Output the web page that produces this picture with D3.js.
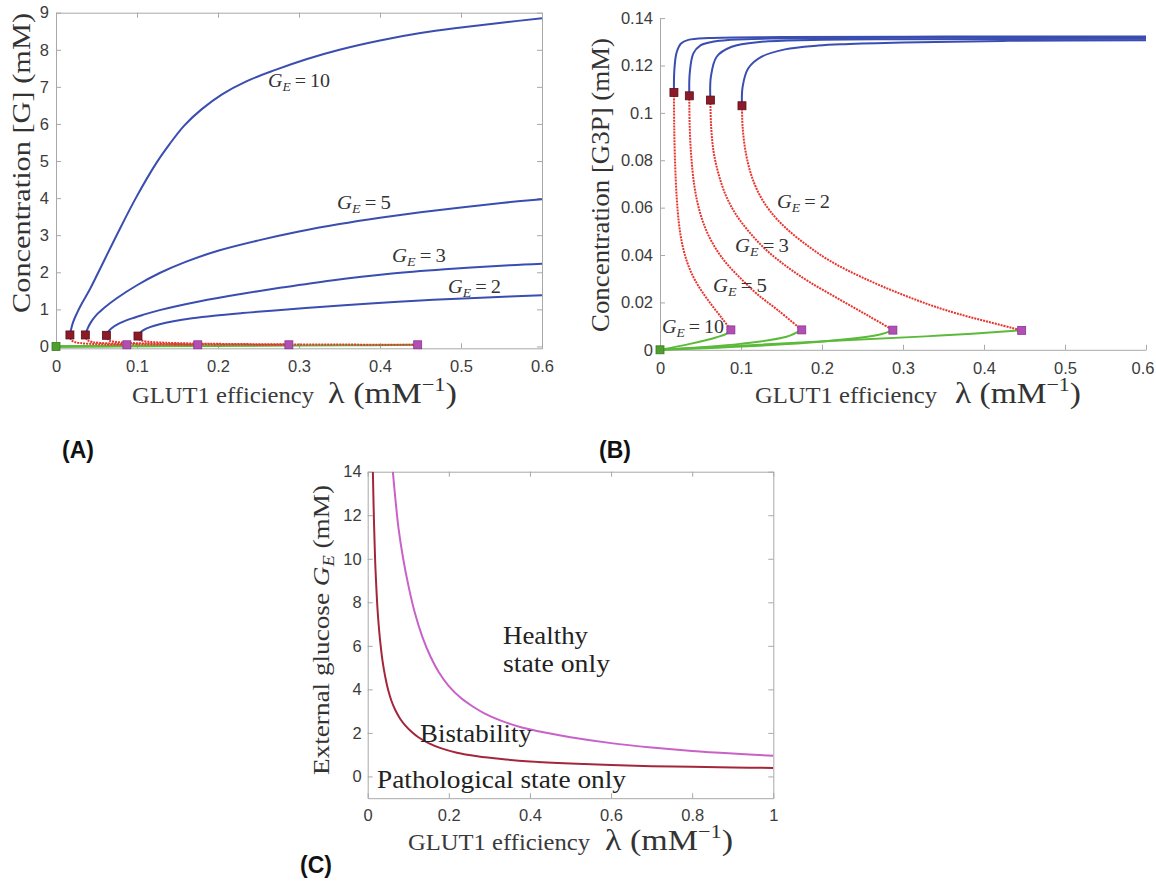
<!DOCTYPE html>
<html><head><meta charset="utf-8">
<script src="https://cdn.jsdelivr.net/npm/d3@7"></script>
<style>body{margin:0;background:#fff}</style>
</head><body>
<svg id="c" width="1156" height="882" xmlns="http://www.w3.org/2000/svg"></svg>
<script>
// ---------------- DATA ----------------
const GE = [10, 5, 3, 2];
const xTicksAB = [0, 0.1, 0.2, 0.3, 0.4, 0.5, 0.6];
const yTicksA = [0, 1, 2, 3, 4, 5, 6, 7, 8, 9];
const yTicksB = [0, 0.02, 0.04, 0.06, 0.08, 0.1, 0.12, 0.14];
const xTicksC = [0, 0.2, 0.4, 0.6, 0.8, 1];
const yTicksC = [0, 2, 4, 6, 8, 10, 12, 14];

// fold (saddle-node) points, one per G_E
const foldHighLam = [0.0172, 0.0362, 0.0622, 0.1012];
const foldLowLam  = [0.0875, 0.175, 0.2875, 0.4465];
const foldHighG   = [0.31, 0.31, 0.30, 0.28];
const foldLowG    = [0.045, 0.045, 0.045, 0.045];
const foldHighG3P = [0.1086, 0.1072, 0.1054, 0.1030];
const foldLowG3P  = [0.0084, 0.0084, 0.0083, 0.0082];

// Panel A: [G] vs lambda  ([lambda, G])
const A_hi_10 = [[0.0172,0.31],[0.0185,0.45],[0.021,0.65],[0.0255,0.88],[0.0317,1.15],[0.042,1.55],[0.0523,2.0],[0.0749,3.0],[0.0985,4.0],[0.124,4.95],[0.14,5.45],[0.158,5.95],[0.18,6.4],[0.205,6.8],[0.235,7.15],[0.27,7.45],[0.31,7.75],[0.35,8.0],[0.4,8.25],[0.45,8.45],[0.5,8.6],[0.55,8.73],[0.6,8.85]];
const A_hi_5  = [[0.0362,0.31],[0.039,0.48],[0.043,0.65],[0.05,0.85],[0.06,1.05],[0.075,1.3],[0.1,1.65],[0.128,1.98],[0.16,2.28],[0.2,2.58],[0.25,2.86],[0.3,3.1],[0.35,3.3],[0.4,3.47],[0.45,3.62],[0.5,3.75],[0.55,3.87],[0.6,3.97]];
const A_hi_3  = [[0.0622,0.30],[0.0645,0.4],[0.069,0.5],[0.077,0.61],[0.09,0.73],[0.107,0.85],[0.128,0.98],[0.178,1.22],[0.23,1.42],[0.2765,1.58],[0.34,1.78],[0.412,1.96],[0.48,2.08],[0.56,2.19],[0.6,2.23]];
const A_hi_2  = [[0.1012,0.28],[0.1035,0.36],[0.108,0.44],[0.116,0.52],[0.128,0.6],[0.145,0.68],[0.168,0.76],[0.195,0.83],[0.23,0.9],[0.27,0.97],[0.33,1.07],[0.388,1.16],[0.45,1.24],[0.51,1.3],[0.56,1.35],[0.6,1.38]];
const A_mid_10 = [[0.0172,0.31],[0.0178,0.22],[0.0195,0.16],[0.023,0.12],[0.03,0.09],[0.042,0.07],[0.06,0.056],[0.0875,0.045]];
const A_mid_5  = [[0.0362,0.31],[0.0372,0.22],[0.0395,0.16],[0.045,0.12],[0.055,0.095],[0.075,0.075],[0.105,0.06],[0.14,0.05],[0.175,0.045]];
const A_mid_3  = [[0.0622,0.30],[0.0633,0.22],[0.066,0.16],[0.073,0.125],[0.087,0.1],[0.11,0.08],[0.15,0.065],[0.21,0.053],[0.2875,0.045]];
const A_mid_2  = [[0.1012,0.28],[0.1025,0.2],[0.107,0.15],[0.117,0.12],[0.135,0.1],[0.165,0.082],[0.21,0.068],[0.28,0.057],[0.36,0.05],[0.4465,0.045]];
const A_lo_10 = [[0,0],[0.04,0.012],[0.07,0.025],[0.0875,0.045]];
const A_lo_5  = [[0,0],[0.08,0.012],[0.14,0.025],[0.175,0.045]];
const A_lo_3  = [[0,0],[0.13,0.012],[0.23,0.025],[0.2875,0.045]];
const A_lo_2  = [[0,0],[0.2,0.015],[0.36,0.03],[0.4465,0.045]];

// Panel B: [G3P] vs lambda
const B_hi_10 = [[0.0172,0.1086],[0.0177,0.118],[0.0205,0.1255],[0.026,0.1293],[0.035,0.1308],[0.06,0.1316],[0.15,0.132],[0.35,0.1322],[0.6,0.1322]];
const B_hi_5  = [[0.0362,0.1072],[0.0367,0.1167],[0.0412,0.1251],[0.05,0.1285],[0.065,0.13],[0.0843,0.1308],[0.146,0.1314],[0.3,0.1317],[0.6,0.1318]];
const B_hi_3  = [[0.0622,0.1054],[0.0628,0.1152],[0.07,0.1237],[0.0885,0.1279],[0.1255,0.13],[0.187,0.1308],[0.3,0.1311],[0.6,0.1313]];
const B_hi_2  = [[0.1012,0.103],[0.102,0.111],[0.109,0.1188],[0.1255,0.1237],[0.1543,0.1268],[0.1955,0.1284],[0.228,0.129],[0.3,0.1297],[0.43,0.1304],[0.6,0.1307]];
const B_mid_10 = [[0.0172,0.1086],[0.0175,0.095],[0.0185,0.08],[0.0206,0.0645],[0.0235,0.053],[0.0275,0.0445],[0.0335,0.037],[0.0415,0.0305],[0.052,0.0245],[0.064,0.0188],[0.0761,0.0135],[0.0875,0.0084]];
const B_mid_5  = [[0.0362,0.1072],[0.0366,0.095],[0.0385,0.082],[0.0425,0.069],[0.0485,0.059],[0.057,0.0505],[0.068,0.0432],[0.082,0.0365],[0.1,0.03],[0.12,0.0235],[0.146,0.0166],[0.175,0.0084]];
const B_mid_3  = [[0.0622,0.1054],[0.063,0.095],[0.066,0.084],[0.072,0.0745],[0.0815,0.065],[0.094,0.057],[0.11,0.0498],[0.13,0.0425],[0.155,0.0355],[0.185,0.0285],[0.222,0.0212],[0.258,0.0142],[0.2875,0.0083]];
const B_mid_2  = [[0.1012,0.103],[0.102,0.094],[0.1055,0.084],[0.112,0.0745],[0.122,0.066],[0.136,0.0585],[0.155,0.0515],[0.18,0.0445],[0.21,0.0375],[0.25,0.0305],[0.3,0.0232],[0.355,0.0165],[0.4465,0.0082]];
const B_lo_10 = [[0,0],[0.037,0.0025],[0.07,0.0053],[0.0823,0.0068],[0.0875,0.0084]];
const B_lo_5  = [[0,0],[0.0988,0.0025],[0.156,0.0055],[0.175,0.0084]];
const B_lo_3  = [[0,0],[0.181,0.003],[0.2716,0.0065],[0.2875,0.0083]];
const B_lo_2  = [[0,0],[0.222,0.0039],[0.3457,0.006],[0.4465,0.0082]];

// Panel C: bifurcation boundaries G_E vs lambda
const C_lower = [[0.0128,14],[0.014,12.9],[0.0155,11.7],[0.0172,10.6],[0.019,9.6],[0.0215,8.6],[0.0245,7.6],[0.028,6.75],[0.032,6.0],[0.037,5.25],[0.043,4.6],[0.05,4.0],[0.058,3.5],[0.068,3.05],[0.08,2.65],[0.093,2.33],[0.108,2.05],[0.125,1.8],[0.15,1.53],[0.18,1.3],[0.22,1.09],[0.27,0.93],[0.33,0.8],[0.4,0.69],[0.5,0.59],[0.6,0.52],[0.7,0.47],[0.8,0.44],[0.9,0.41],[1.0,0.39]];
const C_upper = [[0.062,14],[0.068,12.8],[0.076,11.4],[0.0875,10],[0.1,8.8],[0.115,7.6],[0.135,6.4],[0.155,5.5],[0.175,4.8],[0.2,4.15],[0.23,3.6],[0.26,3.2],[0.2875,2.9],[0.33,2.55],[0.38,2.25],[0.4465,1.98],[0.5,1.8],[0.6,1.53],[0.7,1.33],[0.8,1.17],[0.9,1.05],[1.0,0.95]];

const regionLabels = ["Healthy", "state only", "Bistability", "Pathological state only"];

// ---------------- DRAW ----------------
const svg = d3.select('#c');
const BLUE = '#3a4db0', RED = '#e8352f', GREEN = '#5cba3a', DKRED = '#8c1a28', MAG = '#b24fb4';
const AX = '#a8a8a8', TXT = '#3c3c3c';

function axes(g, x, y, o) {
  const style = s => {
    s.selectAll('.domain').attr('stroke', AX);
    s.selectAll('.tick line').attr('stroke', AX);
    s.selectAll('text').attr('fill', TXT).attr('font-family', 'Liberation Sans, Arial').attr('font-size', 16.5);
  };
  const y0 = y.range()[0], y1 = y.range()[1], x0 = x.range()[0], x1 = x.range()[1];
  const bx = g.append('g').attr('transform', `translate(0,${y0})`)
    .call(d3.axisBottom(x).tickValues(o.xt).tickFormat(String).tickSizeInner(-5).tickSizeOuter(0).tickPadding(o.xp)).call(style);
  if (o.lastShift) {
    bx.selectAll('.tick').filter((d, i, n) => i === n.length - 1).select('text')
      .attr('text-anchor', 'end').attr('x', o.lastShift);
  }
  g.append('g').attr('transform', `translate(${x0},0)`)
    .call(d3.axisLeft(y).tickValues(o.yt).tickFormat(String).tickSizeInner(-5).tickSizeOuter(0).tickPadding(o.yp)).call(style);
  if (o.box) {
    g.append('g').attr('transform', `translate(0,${y1})`)
      .call(d3.axisTop(x).tickValues(o.xt).tickFormat('').tickSizeInner(-5).tickSizeOuter(0)).call(style);
    g.append('g').attr('transform', `translate(${x1},0)`)
      .call(d3.axisRight(y).tickValues(o.yt).tickFormat('').tickSizeInner(-5).tickSizeOuter(0)).call(style);
  }
}

function lineGen(x, y) {
  return d3.line().x(d => x(d[0])).y(d => y(d[1])).curve(d3.curveCatmullRom.alpha(0.5));
}

function squares(g, x, y, lams, vals, fill, stroke) {
  g.selectAll(null).data(lams.map((l, i) => [l, vals[i]])).join('rect')
    .attr('x', d => x(d[0]) - 4).attr('y', d => y(d[1]) - 4)
    .attr('width', 8).attr('height', 8)
    .attr('fill', fill).attr('stroke', stroke).attr('stroke-width', 0.8);
}

function geLabel(g, x, y, num, size, w) {
  const t = g.append('text').attr('x', x).attr('y', y)
    .attr('font-family', 'Liberation Serif, serif').attr('font-size', size).attr('fill', '#333');
  t.append('tspan').attr('font-style', 'italic').text('G');
  t.append('tspan').attr('font-style', 'italic').attr('font-size', size * 0.68).attr('dy', size * 0.22).text('E');
  t.append('tspan').attr('dy', -size * 0.22).text('\u2009=\u2009' + num);
  if (w) t.attr('textLength', w).attr('lengthAdjust', 'spacingAndGlyphs');
}

function xTitle(g, x1, x2, base, w1, w2) {
  g.append('text').attr('x', x1).attr('y', base)
    .attr('font-family', 'Liberation Serif, serif').attr('font-size', 23).attr('fill', '#3a3a3a')
    .attr('textLength', w1).attr('lengthAdjust', 'spacingAndGlyphs').text('GLUT1 efficiency');
  const t = g.append('text').attr('x', x2).attr('y', base)
    .attr('font-family', 'Liberation Serif, serif').attr('font-size', 29).attr('fill', '#333')
    .attr('textLength', w2).attr('lengthAdjust', 'spacingAndGlyphs');
  t.append('tspan').text('\u03bb (mM');
  t.append('tspan').attr('font-size', 19).attr('dy', -12).text('\u22121');
  t.append('tspan').attr('dy', 12).text(')');
}

function yTitle(g, cx, cy, parts, size, w) {
  const t = g.append('text').attr('transform', `translate(${cx},${cy}) rotate(-90)`)
    .attr('text-anchor', 'middle')
    .attr('font-family', 'Liberation Serif, serif').attr('font-size', size).attr('fill', '#333')
    .attr('textLength', w).attr('lengthAdjust', 'spacingAndGlyphs');
  parts(t, size);
}

// ---------- Panel A ----------
{
  const g = svg.append('g');
  const x = d3.scaleLinear([0, 0.6], [56, 542]);
  const y = d3.scaleLinear([-0.05, 9], [348.3, 12.7]);
  const line = lineGen(x, y);
  const his = [A_hi_10, A_hi_5, A_hi_3, A_hi_2];
  const mids = [A_mid_10, A_mid_5, A_mid_3, A_mid_2];
  const los = [A_lo_10, A_lo_5, A_lo_3, A_lo_2];
  axes(g, x, y, {xt: xTicksAB, yt: yTicksA, xp: 12, yp: 7, box: true});
  los.forEach(d => g.append('path').attr('d', line(d)).attr('fill', 'none').attr('stroke', GREEN).attr('stroke-width', 2));
  mids.forEach(d => g.append('path').attr('d', line(d)).attr('fill', 'none').attr('stroke', RED).attr('stroke-width', 2).attr('stroke-dasharray', '2,1'));
  his.forEach(d => g.append('path').attr('d', line(d)).attr('fill', 'none').attr('stroke', BLUE).attr('stroke-width', 2));
  squares(g, x, y, foldHighLam, foldHighG, DKRED, '#5a0f18');
  squares(g, x, y, foldLowLam, foldLowG, MAG, '#8a3590');
  squares(g, x, y, [0], [0], '#4e9e30', '#3a7a22');
  const labPos = [[268, 87, 62], [337, 209, 54], [392, 262, 54], [448, 293, 53]];
  GE.forEach((ge, i) => geLabel(g, labPos[i][0], labPos[i][1], ge, 18, labPos[i][2]));
  xTitle(g, 132, 328, 403, 182, 129);
  yTitle(g, 30, 163, t => t.text('Concentration [G] (mM)'), 26, 300);
  g.append('text').attr('x', 62).attr('y', 458).attr('font-family', 'Liberation Sans, Arial')
    .attr('font-weight', 'bold').attr('font-size', 23).attr('fill', '#111').text('(A)');
}

// ---------- Panel B ----------
{
  const g = svg.append('g');
  const x = d3.scaleLinear([0, 0.6], [660, 1146]);
  const y = d3.scaleLinear([0, 0.14], [349.8, 18.1]);
  const line = lineGen(x, y);
  const his = [B_hi_10, B_hi_5, B_hi_3, B_hi_2];
  const mids = [B_mid_10, B_mid_5, B_mid_3, B_mid_2];
  const los = [B_lo_10, B_lo_5, B_lo_3, B_lo_2];
  axes(g, x, y, {xt: xTicksAB, yt: yTicksB, xp: 12, yp: 7, box: false, lastShift: 8});
  los.forEach(d => g.append('path').attr('d', line(d)).attr('fill', 'none').attr('stroke', GREEN).attr('stroke-width', 2));
  mids.forEach(d => g.append('path').attr('d', line(d)).attr('fill', 'none').attr('stroke', RED).attr('stroke-width', 2).attr('stroke-dasharray', '2,1'));
  his.forEach(d => g.append('path').attr('d', line(d)).attr('fill', 'none').attr('stroke', BLUE).attr('stroke-width', 2));
  squares(g, x, y, foldHighLam, foldHighG3P, DKRED, '#5a0f18');
  squares(g, x, y, foldLowLam, foldLowG3P, MAG, '#8a3590');
  squares(g, x, y, [0], [0], '#4e9e30', '#3a7a22');
  const labPos = [[662, 333, 62], [713, 292, 54], [735, 252, 54], [777, 208, 53]];
  GE.forEach((ge, i) => geLabel(g, labPos[i][0], labPos[i][1], ge, 18, labPos[i][2]));
  xTitle(g, 755, 955, 403, 182, 126);
  yTitle(g, 609, 185, t => t.text('Concentration [G3P] (mM)'), 25, 294);
  g.append('text').attr('x', 599).attr('y', 458).attr('font-family', 'Liberation Sans, Arial')
    .attr('font-weight', 'bold').attr('font-size', 23).attr('fill', '#111').text('(B)');
}

// ---------- Panel C ----------
{
  const g = svg.append('g');
  const x = d3.scaleLinear([0, 1], [367.7, 773.3]);
  const y = d3.scaleLinear([-1, 14], [798.2, 471.7]);
  const line = lineGen(x, y);
  svg.append('clipPath').attr('id', 'clipC').append('rect')
    .attr('x', 367.7).attr('y', 471.7).attr('width', 405.6).attr('height', 326.5);
  axes(g, x, y, {xt: xTicksC, yt: yTicksC, xp: 11.5, yp: 6, box: true});
  const pg = g.append('g').attr('clip-path', 'url(#clipC)');
  pg.append('path').attr('d', line(C_lower)).attr('fill', 'none').attr('stroke', '#a3263a').attr('stroke-width', 2);
  pg.append('path').attr('d', line(C_upper)).attr('fill', 'none').attr('stroke', '#c862c8').attr('stroke-width', 2);
  const rl = [[503, 644, 85], [503, 672, 107], [420, 742, 112], [377, 788, 249]];
  regionLabels.forEach((s, i) => g.append('text').attr('x', rl[i][0]).attr('y', rl[i][1])
    .attr('font-family', 'Liberation Serif, serif').attr('font-size', 25).attr('fill', '#222')
    .attr('textLength', rl[i][2]).attr('lengthAdjust', 'spacingAndGlyphs').text(s));
  xTitle(g, 408, 605, 850, 182, 128);
  yTitle(g, 329, 630, (t, s) => {
    t.append('tspan').text('External glucose ');
    t.append('tspan').attr('font-style', 'italic').text('G');
    t.append('tspan').attr('font-style', 'italic').attr('font-size', s * 0.68).attr('dy', s * 0.22).text('E');
    t.append('tspan').attr('dy', -s * 0.22).text(' (mM)');
  }, 24, 290);
  g.append('text').attr('x', 300).attr('y', 873).attr('font-family', 'Liberation Sans, Arial')
    .attr('font-weight', 'bold').attr('font-size', 23).attr('fill', '#111').text('(C)');
}
</script>
</body></html>
